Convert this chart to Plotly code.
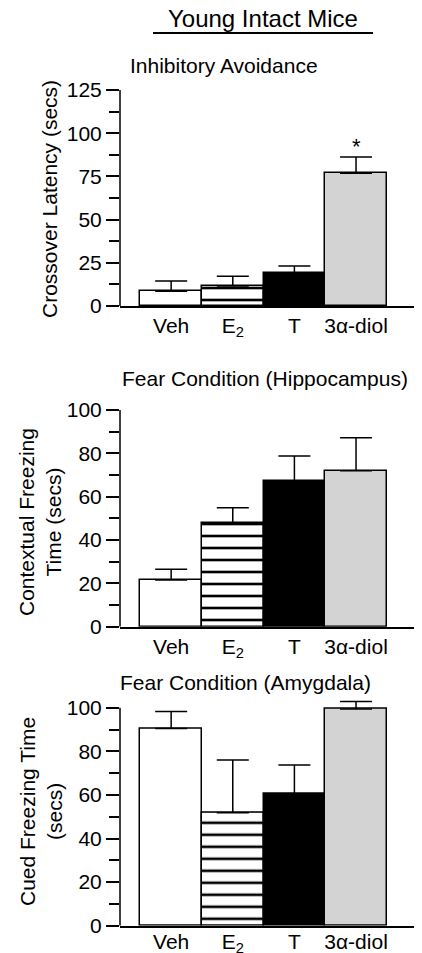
import plotly.graph_objects as go

# ---------------- data ----------------
categories = ["Veh", "E<sub>2</sub>", "T", "3α-diol"]
bar_colors = ["white", "white", "black", "#d3d3d3"]
bar_patterns = ["", "-", "", ""]

ia_means = [8.5, 11.6, 18.9, 76.8]      # Inhibitory Avoidance (secs)
ia_sem = [6.0, 5.6, 4.2, 9.4]
hip_means = [21.5, 48.0, 67.2, 72.0]    # Contextual freezing (secs)
hip_sem = [5.0, 6.9, 11.6, 15.2]
amy_means = [90.5, 51.8, 60.3, 99.4]    # Cued freezing (secs)
amy_sem = [7.7, 24.2, 13.4, 3.4]

panel_titles = ["Inhibitory Avoidance", "Fear Condition (Hippocampus)", "Fear Condition (Amygdala)"]
y_titles = ["Crossover Latency (secs)", "Contextual Freezing<br>Time (secs)", "Cued Freezing Time<br>(secs)"]
main_title = "Young Intact Mice"

# ---------------- layout helpers ----------------
W, H = 422, 953
OFF = 8  # page body margin offset
FONT = "Arial, 'Liberation Sans', sans-serif"
FS = 21

def py(p):  # screen pixel-from-top -> paper y
    return 1 - (p - OFF) / H

def px(p):
    return (p - OFF) / W

panels = [
    dict(means=ia_means, sem=ia_sem, y0=306.0, ppu=1.728, rng=[0, 125], top=125, dtick=25, minor=12.5,
         title_xy=(224, 65), ytitle_xy=(50, 199), standoff=0),
    dict(means=hip_means, sem=hip_sem, y0=626.7, ppu=2.167, rng=[0, 100], top=100, dtick=20, minor=10,
         title_xy=(265, 379), ytitle_xy=(40, 522), standoff=0),
    dict(means=amy_means, sem=amy_sem, y0=925.7, ppu=2.18, rng=[0, 105], top=100, dtick=20, minor=10,
         title_xy=(245, 682), ytitle_xy=(41, 812), standoff=-4),
]

fig = go.Figure()
layout = dict(
    width=W, height=H, margin=dict(l=0, r=0, t=0, b=0, autoexpand=False),
    paper_bgcolor="white", plot_bgcolor="white",
    showlegend=False, bargap=0, barmode="overlay",
    font=dict(family=FONT, size=FS, color="black"),
)
annotations = []
shapes = []

x_left = 120
for i, p in enumerate(panels):
    n = "" if i == 0 else str(i + 1)
    xa, ya = "x" + n, "y" + n
    for j, cat in enumerate(categories):
        fig.add_trace(go.Bar(
            x=[cat], y=[p["means"][j]], xaxis=xa, yaxis=ya, width=1,
            marker=dict(color=bar_colors[j], line=dict(color="black", width=1.5),
                        pattern=dict(shape=bar_patterns[j], fgcolor="black", bgcolor="white",
                                     fgopacity=1, size=12, solidity=0.22)),
            error_y=dict(type="data", symmetric=False, array=[p["sem"][j]], arrayminus=[0],
                         color="black", thickness=1.5, width=16),
            hoverinfo="skip",
        ))
    top_px = p["y0"] - p["rng"][1] * p["ppu"]
    layout["xaxis" + n] = dict(
        domain=[px(x_left), 1.0], anchor=ya, type="category", categoryarray=categories,
        categoryorder="array",
        range=[-0.83, 4.2], showline=True, linecolor="black", linewidth=1.5,
        ticks="", showgrid=False, zeroline=False, fixedrange=True, automargin=False,
        tickfont=dict(size=FS), ticklabelstandoff=p["standoff"],
    )
    layout["yaxis" + n] = dict(
        domain=[py(p["y0"]), py(top_px)], anchor=xa, range=p["rng"],
        showline=False, showgrid=False, zeroline=False, automargin=False,
        ticks="outside", ticklen=13, tickwidth=1.5, tickcolor="black",
        tick0=0, dtick=p["dtick"],
        minor=dict(ticks="outside", ticklen=10, tickwidth=1.5, tickcolor="black", dtick=p["minor"], tick0=0),
        tickfont=dict(size=FS), fixedrange=True,
    )
    # y axis line (ending at top tick)
    shapes.append(dict(type="line", xref=xa + " domain", yref=ya, x0=0, x1=0, y0=0, y1=p["top"],
                       line=dict(color="black", width=1.5)))
    tx, ty = p["title_xy"]
    annotations.append(dict(text=panel_titles[i], xref="paper", yref="paper", x=px(tx), y=py(ty),
                            xanchor="center", yanchor="middle", showarrow=False, font=dict(size=FS)))
    yx, yy = p["ytitle_xy"]
    annotations.append(dict(text=y_titles[i], xref="paper", yref="paper", x=px(yx), y=py(yy),
                            xanchor="center", yanchor="middle", textangle=-90, showarrow=False,
                            font=dict(size=FS)))

# significance marker over 3α-diol in panel 1
annotations.append(dict(text="*", xref="x", yref="y", x=categories[3], y=ia_means[3] + ia_sem[3] - 2,
                        xanchor="center", yanchor="bottom", showarrow=False, font=dict(size=22)))

# main title + underline
annotations.append(dict(text=main_title, xref="paper", yref="paper", x=px(263), y=py(18),
                        xanchor="center", yanchor="middle", showarrow=False, font=dict(size=24)))
shapes.append(dict(type="line", xref="paper", yref="paper", x0=px(153), x1=px(373), y0=py(33), y1=py(33),
                   line=dict(color="black", width=2)))

layout["annotations"] = annotations
layout["shapes"] = shapes
fig.update_layout(**layout)
fig.write_html("out.html")
